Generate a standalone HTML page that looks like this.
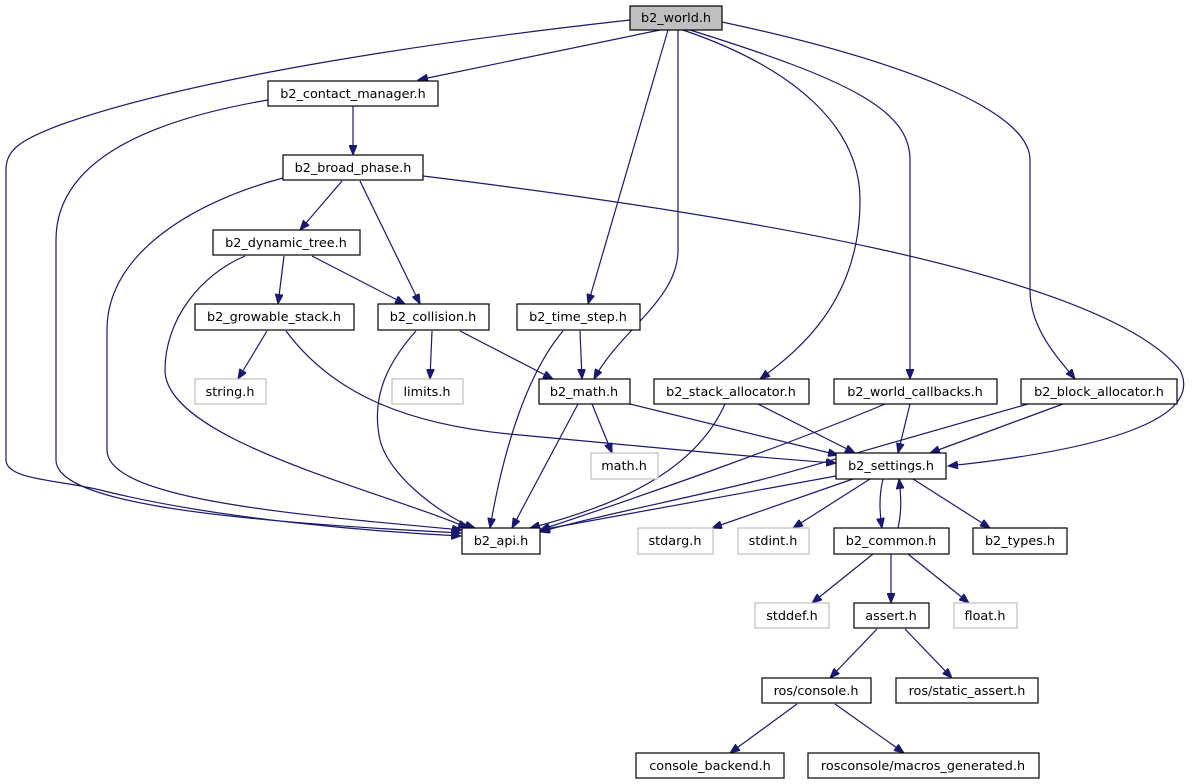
<!DOCTYPE html>
<html><head><meta charset="utf-8"><style>
html,body{margin:0;padding:0;background:#fff;}
svg{display:block;}
text{font-family:"DejaVu Sans","Liberation Sans",sans-serif;font-size:12.8px;text-anchor:middle;}
</style></head><body>
<svg width="1196" height="784" viewBox="0 0 1196 784" xmlns="http://www.w3.org/2000/svg">
<defs>
<marker id="a" markerWidth="11" markerHeight="8" refX="10" refY="4" orient="auto" markerUnits="userSpaceOnUse">
<path d="M0,0 L10,4 L0,8 z" fill="#191970" stroke="#191970"/>
</marker>
</defs>
<g fill="none" stroke="#191970" stroke-width="1.2" marker-end="url(#a)">
<path d="M660,30 L418,80"/>
<path d="M630,20 C450,40 200,75 60,125 C20,140 6,150 6,170 L6,460 C6,480 60,480 100,490 C220,520 380,532 461,536"/>
<path d="M268,100 C150,120 56,160 56,240 L56,460 C56,500 200,520 461,533"/>
<path d="M353,106 L353,155"/>
<path d="M342,181 L300,230"/>
<path d="M360,181 L420,304"/>
<path d="M283,178 C200,200 107,250 107,330 L107,450 C107,500 300,515 462,530"/>
<path d="M423,176 C700,210 1100,270 1180,370 C1205,420 1100,450 948,466"/>
<path d="M284,256 L278,304"/>
<path d="M312,256 L405,304"/>
<path d="M245,256 C200,275 165,320 165,370 C165,440 380,490 468,528"/>
<path d="M267,331 L238,379"/>
<path d="M286,331 C330,390 400,425 520,435 C650,447 760,458 836,463"/>
<path d="M432,331 L430,379"/>
<path d="M460,331 L553,379"/>
<path d="M416,331 C390,360 370,395 380,440 C390,480 450,520 475,528"/>
<path d="M580,331 L582,379"/>
<path d="M563,331 C530,370 505,440 490,528"/>
<path d="M668,30 L588,304"/>
<path d="M678,30 L678,250 C678,300 620,330 594,379"/>
<path d="M683,30 C800,70 860,130 860,200 C860,300 800,350 760,379"/>
<path d="M690,30 C850,80 910,110 910,160 L910,379"/>
<path d="M722,22 C900,60 1030,110 1030,160 L1030,290 C1030,330 1060,360 1075,379"/>
<path d="M592,404 L612,453"/>
<path d="M578,404 L512,528"/>
<path d="M630,404 L838,455"/>
<path d="M758,404 L855,453"/>
<path d="M725,404 C700,460 640,500 530,528"/>
<path d="M910,404 L898,453"/>
<path d="M885,404 C800,440 660,490 540,530"/>
<path d="M1063,404 L930,453"/>
<path d="M1028,404 C900,440 800,470 760,480 C680,500 600,515 540,532"/>
<path d="M836,476 L540,530"/>
<path d="M853,479 L712,528"/>
<path d="M870,479 L793,528"/>
<path d="M883,479 C879,495 879,510 882,528"/>
<path d="M898,528 C902,510 901,495 899,479"/>
<path d="M913,479 L990,528"/>
<path d="M873,554 L812,603"/>
<path d="M891,554 L891,603"/>
<path d="M908,554 L969,603"/>
<path d="M877,629 L830,678"/>
<path d="M905,629 L952,678"/>
<path d="M797,704 L730,753"/>
<path d="M835,704 L904,753"/>
</g>
<g stroke-width="1.2">
<rect x="630" y="6" width="92" height="24" fill="#bfbfbf" stroke="#000"/><text x="676" y="22">b2_world.h</text>
<rect x="268" y="81" width="170" height="25" fill="#fff" stroke="#000"/><text x="353" y="98">b2_contact_manager.h</text>
<rect x="283" y="155" width="140" height="25" fill="#fff" stroke="#000"/><text x="353" y="172">b2_broad_phase.h</text>
<rect x="213" y="230" width="147" height="25" fill="#fff" stroke="#000"/><text x="286" y="247">b2_dynamic_tree.h</text>
<rect x="195" y="304" width="159" height="26" fill="#fff" stroke="#000"/><text x="274" y="321">b2_growable_stack.h</text>
<rect x="378" y="304" width="111" height="26" fill="#fff" stroke="#000"/><text x="433" y="321">b2_collision.h</text>
<rect x="517" y="304" width="123" height="26" fill="#fff" stroke="#000"/><text x="578" y="321">b2_time_step.h</text>
<rect x="195" y="379" width="71" height="25" fill="#fff" stroke="#bfbfbf"/><text x="230" y="396">string.h</text>
<rect x="392" y="379" width="71" height="25" fill="#fff" stroke="#bfbfbf"/><text x="427" y="396">limits.h</text>
<rect x="539" y="379" width="91" height="25" fill="#fff" stroke="#000"/><text x="584" y="396">b2_math.h</text>
<rect x="654" y="379" width="155" height="25" fill="#fff" stroke="#000"/><text x="731" y="396">b2_stack_allocator.h</text>
<rect x="834" y="379" width="163" height="25" fill="#fff" stroke="#000"/><text x="915" y="396">b2_world_callbacks.h</text>
<rect x="1021" y="379" width="156" height="25" fill="#fff" stroke="#000"/><text x="1099" y="396">b2_block_allocator.h</text>
<rect x="591" y="453" width="67" height="26" fill="#fff" stroke="#bfbfbf"/><text x="624" y="470">math.h</text>
<rect x="836" y="453" width="110" height="26" fill="#fff" stroke="#000"/><text x="891" y="470">b2_settings.h</text>
<rect x="462" y="528" width="78" height="26" fill="#fff" stroke="#000"/><text x="501" y="545">b2_api.h</text>
<rect x="638" y="528" width="75" height="26" fill="#fff" stroke="#bfbfbf"/><text x="675" y="545">stdarg.h</text>
<rect x="738" y="528" width="71" height="26" fill="#fff" stroke="#bfbfbf"/><text x="773" y="545">stdint.h</text>
<rect x="834" y="528" width="115" height="26" fill="#fff" stroke="#000"/><text x="891" y="545">b2_common.h</text>
<rect x="973" y="528" width="94" height="26" fill="#fff" stroke="#000"/><text x="1020" y="545">b2_types.h</text>
<rect x="755" y="603" width="74" height="25" fill="#fff" stroke="#bfbfbf"/><text x="792" y="620">stddef.h</text>
<rect x="854" y="603" width="75" height="25" fill="#fff" stroke="#000"/><text x="891" y="620">assert.h</text>
<rect x="954" y="603" width="63" height="25" fill="#fff" stroke="#bfbfbf"/><text x="985" y="620">float.h</text>
<rect x="762" y="678" width="109" height="25" fill="#fff" stroke="#000"/><text x="816" y="695">ros/console.h</text>
<rect x="896" y="678" width="142" height="25" fill="#fff" stroke="#000"/><text x="967" y="695">ros/static_assert.h</text>
<rect x="636" y="753" width="148" height="25" fill="#fff" stroke="#000"/><text x="710" y="770">console_backend.h</text>
<rect x="808" y="753" width="231" height="25" fill="#fff" stroke="#000"/><text x="923" y="770">rosconsole/macros_generated.h</text>
</g>
</svg>
</body></html>
